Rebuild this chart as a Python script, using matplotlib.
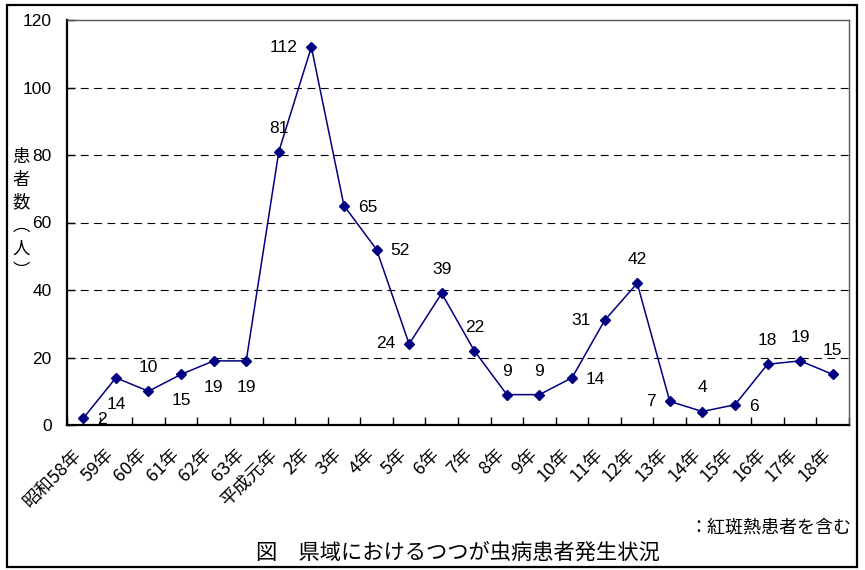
import matplotlib
matplotlib.use("Agg")
import matplotlib.pyplot as plt
from matplotlib.patches import Rectangle

plt.rcParams['font.family'] = ['Liberation Sans', 'Noto Sans CJK JP', 'DejaVu Sans']
CJK = ['Noto Sans CJK JP', 'Liberation Sans']

years = ['昭和58年', '59年', '60年', '61年', '62年', '63年', '平成元年', '2年', '3年',
         '4年', '5年', '6年', '7年', '8年', '9年', '10年', '11年', '12年', '13年',
         '14年', '15年', '16年', '17年', '18年']
patients = [2, 14, 10, 15, 19, 19, 81, 112, 65, 52, 24, 39, 22, 9, 9, 14, 31, 42,
            7, 4, 6, 18, 19, 15]
# where each value label sits relative to its point
label_side = ['r', 'b', 't', 'b', 'b', 'b', 't', 'l', 'r', 'r', 'l', 't', 't', 't',
              't', 'r', 'l', 't', 'l', 't', 'r', 't', 't', 't']
y_ticks = [0, 20, 40, 60, 80, 100, 120]

fig = plt.figure(figsize=(8.65, 5.7), dpi=100)
ax = fig.add_axes([67 / 865, 1 - 425 / 570, 782 / 865, 405 / 570])

x = list(range(len(years)))
ax.plot(x, patients, color='#000080', lw=1.1, marker='D', ms=5.0,
        markerfacecolor='#000080', markeredgecolor='#000080', zorder=3)

ax.set_xlim(-0.5, len(years) - 0.5)
ax.set_ylim(0, 120)
ax.set_yticks(y_ticks)
ax.set_yticklabels([str(v) for v in y_ticks], fontsize=12.5)
for g in y_ticks[1:-1]:
    ax.axhline(g, color='black', lw=0.8, ls=(0, (7, 5)), zorder=1)

# category boundaries carry the tick marks
ax.set_xticks([i - 0.5 for i in range(len(years) + 1)])
ax.set_xticklabels([])
ax.tick_params(axis='x', direction='in', length=6, width=1, color='black')
ax.tick_params(axis='y', direction='in', length=6, width=1, color='black', pad=11)
for i, lab in enumerate(years):
    ax.annotate(lab, xy=(i, 0), xycoords='data', xytext=(-8, -15),
                textcoords='offset points', rotation=45, ha='right', va='top',
                rotation_mode='anchor', fontsize=13, family=CJK)

for s in ('left', 'bottom'):
    ax.spines[s].set_linewidth(1.6)
    ax.spines[s].set_color('black')
for s in ('top', 'right'):
    ax.spines[s].set_linewidth(1.0)
    ax.spines[s].set_color('#555555')

for i, (v, side) in enumerate(zip(patients, label_side)):
    if side == 't':
        kw = dict(xytext=(0, 17), ha='center', va='center')
    elif side == 'b':
        kw = dict(xytext=(0, -19), ha='center', va='center')
    elif side == 'l':
        kw = dict(xytext=(-10, 0), ha='right', va='center')
    else:
        kw = dict(xytext=(10, -1), ha='left', va='center')
    ax.annotate(str(v), xy=(i, v), textcoords='offset points', fontsize=12.5, **kw)

# vertical axis title, stacked character by character
fig.text(21 / 865, 1 - 214 / 570, '患\n者\n数\n︵\n人\n︶', ha='center', va='center',
         fontsize=12.5, linespacing=1.35, family=CJK)

fig.text(851 / 865, 1 - 527 / 570, '：紅斑熱患者を含む', ha='right', va='center',
         fontsize=13, family=CJK)
fig.text(458 / 865, 1 - 553 / 570, '図　県域におけるつつが虫病患者発生状況', ha='center',
         va='center', fontsize=15.3, family=CJK)

fig.patches.append(Rectangle((7 / 865, 3 / 570), 850 / 865, 562 / 570,
                             transform=fig.transFigure, fill=False,
                             edgecolor='black', lw=1.6))

fig.savefig('out.png', dpi=100)
